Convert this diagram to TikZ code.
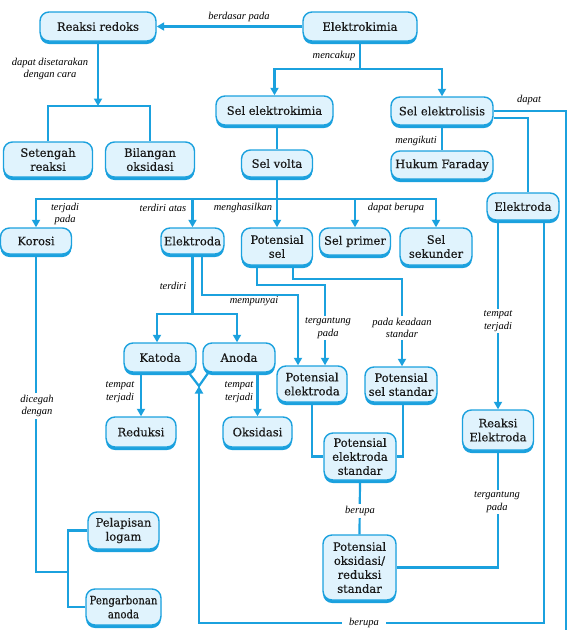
\documentclass[tikz,border=0pt]{standalone}
\usepackage{fontspec}
\setmainfont[FakeBold=0.4]{DejaVu Serif}
\newfontfamily\labelfont{Liberation Serif}
\newfontfamily\condfont[FakeStretch=0.88,FakeBold=0.4]{DejaVu Serif}
\usetikzlibrary{arrows.meta,shadows}
\definecolor{cblue}{RGB}{27,161,222}
\definecolor{cfill}{RGB}{224,243,253}
\begin{document}
\begin{tikzpicture}[x=1pt,y=-1pt,
 box/.style={draw=cblue, fill=cfill, line width=1.4pt, rounded corners=9pt, align=center, inner sep=1pt,
   font=\fontsize{11.5}{14}\selectfont, text=black!90,
   drop shadow={shadow xshift=0pt, shadow yshift=-3pt, fill=cblue, opacity=1}},
 ln/.style={draw=cblue, line width=2.2pt},
 arr/.style={ln, -{Triangle[length=7.5pt,width=8pt]}},
 lab/.style={font=\labelfont\itshape\fontsize{10.5}{12.5}\selectfont, align=center, inner sep=1pt, text=black},
 labw/.style={lab, fill=white, inner xsep=3pt, inner ysep=2pt}]
\useasboundingbox (0,0) rectangle (572,630);
% nodes
\node[box, minimum width=116pt, minimum height=29pt] (rr) at (98,26.5) {Reaksi redoks};
\node[box, minimum width=114pt, minimum height=29pt] (ek) at (360,26.5) {Elektrokimia};
\node[box, minimum width=89pt, minimum height=35pt] (sr) at (48,159.5) {Setengah\\reaksi};
\node[box, minimum width=89pt, minimum height=35pt] (bo) at (150,159.5) {Bilangan\\oksidasi};
\node[box, minimum width=117pt, minimum height=29pt] (sek) at (274.5,110.5) {Sel elektrokimia};
\node[box, minimum width=102pt, minimum height=28pt] (sel) at (442,111) {Sel elektrolisis};
\node[box, minimum width=71pt, minimum height=27pt] (sv) at (277,163.5) {Sel volta};
\node[box, minimum width=102pt, minimum height=28pt] (hf) at (442,165) {Hukum Faraday};
\node[box, minimum width=71pt, minimum height=26pt] (kor) at (36,241) {Korosi};
\node[box, minimum width=63pt, minimum height=26pt] (el1) at (192.5,241) {Elektroda};
\node[box, minimum width=71pt, minimum height=37pt] (ps) at (277,246.5) {Potensial\\sel};
\node[box, minimum width=71pt, minimum height=27pt] (sp) at (355,241.5) {Sel primer};
\node[box, minimum width=72pt, minimum height=37pt] (ssk) at (436,246.5) {Sel\\sekunder};
\node[box, minimum width=72pt, minimum height=27pt] (el2) at (523,206.5) {Elektroda};
\node[box, minimum width=72pt, minimum height=29pt] (kat) at (160,357.5) {Katoda};
\node[box, minimum width=72pt, minimum height=29pt] (an) at (239,357.5) {Anoda};
\node[box, minimum width=70pt, minimum height=30pt] (red) at (141,432) {Reduksi};
\node[box, minimum width=69pt, minimum height=30pt] (oks) at (257.5,432) {Oksidasi};
\node[box, minimum width=70pt, minimum height=36pt] (pe) at (312,384) {Potensial\\elektroda};
\node[box, minimum width=72pt, minimum height=35pt] (pss) at (401,384.5) {Potensial\\sel standar};
\node[box, minimum width=71pt, minimum height=40pt] (re) at (498,430) {Reaksi\\Elektroda};
\node[box, minimum width=72pt, minimum height=47pt] (pes) at (360,456.5) {Potensial\\elektroda\\standar};
\node[box, minimum width=73pt, minimum height=65pt] (por) at (359.5,567.5) {Potensial\\oksidasi/\\reduksi\\standar};
\node[box, minimum width=71pt, minimum height=37pt] (pl) at (123.5,530.5) {Pelapisan\\logam};
\node[box, minimum width=75pt, minimum height=36pt, font=\condfont\fontsize{11.5}{14}\selectfont] (pa) at (123.5,607) {Pengarbonan\\anoda};
% coordinates
\coordinate (rrb) at (98,106);
\coordinate (ekb) at (360,69);
\coordinate (svb) at (277,199);
\coordinate (rb) at (566,631);
\coordinate (bb) at (199,623);
\coordinate (vv) at (199,386);
\coordinate (elb) at (192.5,314);
\coordinate (m1) at (298,295);
\coordinate (m2) at (325,285);
\coordinate (m3) at (402,279);
\coordinate (kb) at (68,572);
% connectors
\draw[arr] (ek.west) -- (rr.east);
\draw[arr] (rr.south) -- (rrb);
\draw[ln] (sr.north) |- (rrb) -| (bo.north);
\draw[ln] (ek.south) -- (ekb);
\draw[arr] (ekb) -| (sek.north);
\draw[arr] (ekb) -| (sel.north);
\draw[ln] (sv.north |- sek.south) -- (sv.north);
\draw[ln] (sel.south) -- (hf.north);
\draw[ln] (sv.south) -- (svb);
\draw[arr] (svb) -| (kor.north);
\draw[arr] (svb) -| (el1.north);
\draw[arr] (svb) -- (ps.north);
\draw[arr] (svb) -| (sp.north);
\draw[arr] (svb) -| (ssk.north);
\draw[ln] (sel.east) -| (rb);
\draw[ln] ([yshift=-7pt]sel.east) -| ([xshift=5pt]el2.north);
\draw[arr] (el2.south -| re.north) -- (re.north);
\draw[arr] ([xshift=21pt]el2.south) |- (bb) -- (vv);
\draw[ln] ([xshift=-8pt]kat.south east) -- (vv) -- ([xshift=6pt]an.south west);
\draw[arr] (red.north |- kat.south) -- (red.north);
\draw[arr] (oks.north |- an.south) -- (oks.north);
\draw[ln] (el1.south) -- (elb);
\draw[arr] (elb) -| ([xshift=-3pt]kat.north);
\draw[arr] (elb) -| ([xshift=-2pt]an.north);
\draw[arr] ([xshift=9.5pt]el1.south) |- (m1) -- (m1 |- pe.north);
\draw[arr] ([xshift=-20pt]ps.south) |- (m2) -- (m2 |- pe.north);
\draw[arr] ([xshift=16pt]ps.south) |- (m3) -- (m3 |- pss.north);
\draw[ln] (pe.south) |- (pes.west);
\draw[ln] ([xshift=2pt]pss.south) |- (pes.east);
\draw[ln] (pes.south) -- (por.north);
\draw[ln] (re.south) |- (por.east);
\draw[ln] (kor.south) |- (kb);
\draw[ln] (pl.west) -| (kb) |- (pa.west);
% labels
\node[lab] at (239,17) {berdasar pada};
\node[lab] at (50,69) {dapat disetarakan\\dengan cara};
\node[lab] at (334,56) {mencakup};
\node[lab] at (416,141) {mengikuti};
\node[lab] at (529,100) {dapat};
\node[lab] at (65,214) {terjadi\\pada};
\node[lab] at (163,208) {terdiri atas};
\node[lab] at (243,208) {menghasilkan};
\node[lab] at (396,208) {dapat berupa};
\node[lab] at (173,286) {terdiri};
\node[lab] at (254,301) {mempunyai};
\node[labw] at (328,328) {tergantung\\pada};
\node[labw] at (402,328) {pada keadaan\\standar};
\node[labw] at (498,321) {tempat\\terjadi};
\node[lab] at (120,392) {tempat\\terjadi};
\node[lab] at (239,392) {tempat\\terjadi};
\node[labw] at (37,406) {dicegah\\dengan};
\node[labw] at (360,511) {berupa};
\node[labw] at (497,502) {tergantung\\pada};
\node[labw, inner xsep=7pt] at (364,623) {berupa};
\end{tikzpicture}
\end{document}
